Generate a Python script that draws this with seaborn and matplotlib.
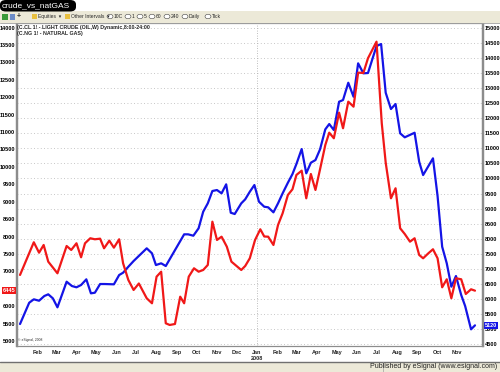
import matplotlib
matplotlib.use("Agg")
import matplotlib.pyplot as plt
import matplotlib.dates as mdates
import matplotlib.transforms as mtrans
from matplotlib.patches import Rectangle, FancyBboxPatch, Circle
import numpy as np
import pandas as pd
import seaborn as sns

# ---------------- data ----------------
START = pd.Timestamp("2007-01-05")
# days since 5 Jan 2007, values on left scale (crude)
red_day = [0, 21, 29, 36, 43, 57, 71, 78, 86, 93, 99, 107, 114, 122, 128, 136, 143,
           151, 157, 165, 173, 181, 193, 201, 208, 215, 222, 228, 236, 244, 250, 257,
           265, 272, 279, 286, 293, 300, 307, 315, 322, 337, 343, 350, 358, 366, 372,
           378, 386, 393, 400, 408, 415, 421, 429, 436, 443, 450, 457, 465, 471, 478,
           486, 492, 500, 508, 515, 523, 530, 543, 551, 557, 565, 572, 579, 586, 594,
           601, 608, 614, 622, 629, 636, 643, 650, 657, 664, 672, 679, 687, 693]
red_val = [6896, 7835, 7536, 7757, 7278, 6944, 7728, 7614, 7806, 7404, 7806, 7950,
           7921, 7938, 7662, 7881, 7680, 7921, 7232, 6752, 6465, 6651, 6226, 6083,
           6847, 6990, 5508, 5460, 5488, 6272, 6083, 6847, 7088, 6990, 7039, 7183,
           8426, 7901, 7995, 7708, 7278, 7039, 7154, 7375, 7901, 8208, 8001, 7995,
           7757, 8332, 8668, 9193, 9357, 9768, 9891, 9098, 9796, 9337, 9931, 10629,
           10982, 10822, 11557, 11109, 11873, 11729, 12706, 12697, 13119, 13596,
           11252, 10121, 9098, 9386, 8237, 8073, 7852, 7950, 7470, 7375, 7519, 7634,
           7375, 6542, 6772, 6226, 6801, 6772, 6350, 6485, 6445]

# days since 5 Jan 2007, values on right scale (natural gas)
blue_day = [0, 14, 21, 29, 37, 43, 50, 57, 71, 79, 86, 93, 101, 108, 114, 122, 129,
            143, 151, 157, 165, 173, 193, 201, 207, 215, 222, 250, 256, 264, 272, 279,
            286, 293, 300, 307, 314, 321, 327, 337, 343, 350, 357, 364, 372, 378, 386,
            393, 400, 408, 415, 421, 429, 436, 443, 450, 457, 465, 471, 478, 486, 492,
            500, 508, 515, 523, 530, 543, 550, 557, 565, 572, 579, 586, 601, 608, 614,
            629, 636, 643, 650, 657, 664, 672, 678, 687, 693]
blue_val = [5164, 5872, 5985, 5938, 6095, 6151, 6018, 5719, 6570, 6427, 6384, 6460,
            6649, 6184, 6204, 6493, 6493, 6483, 6792, 6869, 7068, 7257, 7679, 7513,
            7124, 7181, 7091, 8144, 8144, 8098, 8344, 8895, 9174, 9583, 9616, 9506,
            9805, 8862, 8819, 9174, 9307, 9559, 9782, 9227, 9061, 9041, 8875, 9174,
            9506, 9858, 10147, 10480, 10978, 10171, 10523, 10612, 10968, 11632, 11808,
            11609, 12549, 12606, 13180, 12715, 13825, 13493, 13503, 14400, 14466,
            12848, 12307, 12473, 11500, 11367, 11519, 10556, 10114, 10669, 9417, 7732,
            7181, 6404, 6759, 6128, 5762, 4988, 5120]

red_name = "(C.CL 1! - LIGHT CRUDE (OIL,W) Dynamic,8:00-24:00"
blue_name = "(C.NG 1! - NATURAL GAS)"
left_ticks = list(range(5000, 14001, 500))
right_ticks = list(range(4500, 15001, 500))
month_ticks = pd.date_range("2007-02-01", "2008-11-01", freq="MS")

df_red = pd.DataFrame({"date": START + pd.to_timedelta(red_day, unit="D"), "value": red_val})
df_blue = pd.DataFrame({"date": START + pd.to_timedelta(blue_day, unit="D"), "value": blue_val})

# ---------------- style ----------------
sns.set_theme(style="white")
plt.rcParams["font.family"] = ["Liberation Sans", "DejaVu Sans"]

W, H = 500, 372
fig = plt.figure(figsize=(W / 100, H / 100), dpi=100)
fig.patch.set_facecolor("white")

def fx(px):
    return px / W

def fy(py):
    return 1 - py / H

# window chrome: title tab + toolbar
fig.patches.append(Rectangle((0, fy(23)), 1, 12 / H, transform=fig.transFigure,
                             facecolor="#ECE9D8", edgecolor="none", zorder=0))
fig.patches.append(FancyBboxPatch((0, fy(11.5)), fx(76), 11.5 / H,
                                  boxstyle="round,pad=0,rounding_size=0.012",
                                  transform=fig.transFigure, facecolor="black",
                                  edgecolor="none", zorder=1))
fig.text(fx(2), fy(5.8), "crude_vs_natGAS", color="white", fontsize=6.0,
         va="center", ha="left")
fig.add_artist(plt.Line2D([0, 1], [fy(23), fy(23)], transform=fig.transFigure,
                          color="#A0A0A0", lw=0.6))

tb_y = fy(16.5)
fig.patches.append(Rectangle((fx(2), fy(19.5)), fx(6), 6 / H, transform=fig.transFigure,
                             facecolor="#3A9A3A", edgecolor="none"))
fig.patches.append(Rectangle((fx(10), fy(19.5)), fx(5), 6 / H, transform=fig.transFigure,
                             facecolor="#6C8CC8", edgecolor="none"))
fig.text(fx(17), tb_y, "+", fontsize=5, va="center", ha="left", weight="bold")
for fxp in (32, 65):
    fig.patches.append(Rectangle((fx(fxp), fy(19)), fx(4.5), 5 / H, transform=fig.transFigure,
                                 facecolor="#E8C040", edgecolor="none"))
fig.text(fx(38), tb_y, "Equities  \u25be", fontsize=3.6, va="center", ha="left")
fig.text(fx(71), tb_y, "Other Intervals  \u25be", fontsize=3.6, va="center", ha="left")
for cx, lab in [(110, "10C"), (128, "1"), (140, "5"), (152, "60"), (167, "240"),
                (185, "Daily"), (208, "Tick")]:
    fig.patches.append(Circle((fx(cx), tb_y), 2.2 / H, transform=fig.transFigure,
                              facecolor="white", edgecolor="#404040", lw=0.4))
    fig.text(fx(cx + 4), tb_y, lab, fontsize=3.6, va="center", ha="left")

# bottom status bar
fig.patches.append(Rectangle((0, 0), 1, 10.5 / H, transform=fig.transFigure,
                             facecolor="#ECE9D8", edgecolor="none", zorder=0))
fig.add_artist(plt.Line2D([0, 1], [fy(361.5), fy(361.5)], transform=fig.transFigure,
                          color="#707070", lw=1.0))
fig.add_artist(plt.Line2D([fx(383), fx(383)], [0, fy(362)], transform=fig.transFigure,
                          color="#A0A0A0", lw=0.5))
fig.text(fx(497), fy(367), "Published by eSignal (www.esignal.com)", fontsize=5,
         va="center", ha="right", color="#202020")

# ---------------- chart ----------------
ax = fig.add_axes([fx(17), fy(346), fx(483 - 17), (346 - 23) / H])  # blue, right scale
axr = ax.twinx()                                                       # red, left scale

x0 = mdates.date2num(START)

sns.lineplot(data=df_blue, x="date", y="value", ax=ax, color="#1414E6", lw=1.6,
             sort=False, zorder=3)
sns.lineplot(data=df_red, x="date", y="value", ax=axr, color="#F01818", lw=1.6,
             sort=False, zorder=3)

ax.set_ylim(4434, 15165)
axr.set_ylim(4856, 14132)
ax.set_xlim(x0 - 4.6, x0 + 705.2)

ax.set_xlabel("")
ax.set_ylabel("")
axr.set_xlabel("")
axr.set_ylabel("")

ax.yaxis.tick_right()
ax.set_yticks(right_ticks)
ax.set_yticklabels([str(v) for v in right_ticks])
axr.yaxis.tick_left()
axr.set_yticks(left_ticks)
axr.set_yticklabels([str(v) for v in left_ticks])

for a in (ax, axr):
    a.tick_params(axis="y", length=0, pad=1.5, labelsize=4, labelcolor="black")
    for lab in a.get_yticklabels():
        lab.set_fontweight("bold")

ax.set_xticks(month_ticks)
ax.set_xticklabels([d.strftime("%b") + ("\n2008" if (d.month == 1) else "")
                    for d in month_ticks])
ax.tick_params(axis="x", length=0, pad=3, labelsize=4)
for lab in ax.get_xticklabels():
    lab.set_fontweight("bold")
    lab.set_verticalalignment("top")

# grid
ax.yaxis.grid(True, linestyle=(0, (1, 3)), color="#B4B4B4", lw=0.6)
ax.xaxis.grid(False)
axr.grid(False)
ax.set_axisbelow(True)
ax.axvline(mdates.date2num(pd.Timestamp("2008-01-01")), color="#A8A8A8",
           lw=0.6, linestyle=(0, (1, 2)), zorder=1)

for a in (ax, axr):
    for s in ("left", "right"):
        a.spines[s].set_color("#8C8C8C")
        a.spines[s].set_linewidth(1.6)
    for s in ("top", "bottom"):
        a.spines[s].set_color("#8C8C8C")
        a.spines[s].set_linewidth(0.8)

# series description text
axr.text(0.0, 1.0 - 2 / 323, red_name, transform=axr.transAxes, fontsize=3.8,
         weight="bold", va="top", ha="left")
axr.text(0.0, 1.0 - 8 / 323, blue_name, transform=axr.transAxes, fontsize=3.8,
         weight="bold", va="top", ha="left")
axr.text(0.003, 0.012, "\u00a9 eSignal, 2008", transform=axr.transAxes, fontsize=2.4,
         va="bottom", ha="left")

# last value markers
tr_l = mtrans.blended_transform_factory(axr.transAxes, axr.transData)
axr.text(-0.004, red_val[-1], f"{red_val[-1]}", transform=tr_l, ha="right", va="center",
         fontsize=4, weight="bold", color="white", clip_on=False,
         bbox=dict(facecolor="#F01818", edgecolor="none", pad=0.6))
tr_r = mtrans.blended_transform_factory(ax.transAxes, ax.transData)
ax.text(1.004, blue_val[-1], f"{blue_val[-1]}", transform=tr_r, ha="left", va="center",
        fontsize=4, weight="bold", color="white", clip_on=False,
        bbox=dict(facecolor="#1414E6", edgecolor="none", pad=0.6))

fig.savefig("out.png", dpi=100)
